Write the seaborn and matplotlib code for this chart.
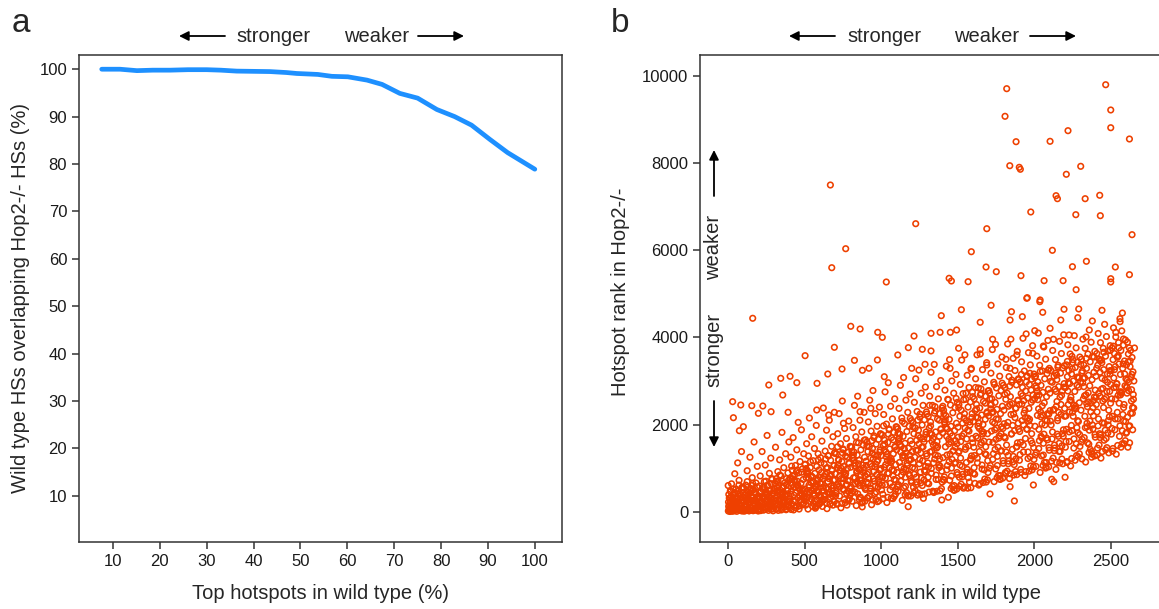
import numpy as np
import pandas as pd
import seaborn as sns
import matplotlib.pyplot as plt
from matplotlib.patches import FancyArrowPatch

# panel a: overlap of top wild type hotspots with Hop2-/- hotspots
pct_top = [7.6, 11.5, 15.1, 18.5, 22.2, 26.0, 30.0, 33.0, 36.4, 40.0, 43.5, 47.0,
           49.2, 51.5, 53.7, 56.7, 60.1, 64.2, 67.4, 71.2, 75.0, 79.1, 82.9, 86.5,
           90.4, 94.2, 100.0]
pct_overlap = [100.0, 100.0, 99.7, 99.8, 99.8, 99.9, 99.9, 99.8, 99.6, 99.55, 99.5, 99.3,
               99.1, 99.0, 98.9, 98.5, 98.4, 97.7, 96.8, 94.9, 93.9, 91.5, 90.0, 88.2,
               85.2, 82.4, 78.9]

# panel b: hotspot rank in wild type vs rank in Hop2-/-
# isolated points well above the main cloud
outliers = [
    (1819, 9709), (2465, 9800), (1808, 9075), (2498, 9220), (2498, 8813), (2219, 8745),
    (1880, 8492), (2102, 8501), (2620, 8554), (668, 7498), (1839, 7941), (1901, 7904),
    (1908, 7859), (2302, 7927), (2208, 7744), (2141, 7253), (2150, 7184), (2331, 7184),
    (2426, 7262), (1976, 6879), (2270, 6817), (2430, 6794), (1225, 6610), (1689, 6495),
    (2637, 6358), (768, 6036), (1588, 5967), (2117, 5999), (677, 5600), (1684, 5616),
    (1751, 5508), (2339, 5747), (2248, 5623), (2528, 5616), (1033, 5272), (1443, 5357),
    (1458, 5295), (1567, 5279), (1912, 5417), (2063, 5302), (2187, 5302), (2272, 5095),
    (2498, 5348), (2498, 5272), (2620, 5440), (1953, 4912), (2037, 4859),
]
# sparse points between the cloud and the outliers
upper_scatter = [
    (1950, 4898), (2035, 4820), (1717, 4737), (2054, 4576), (161, 4439), (1392, 4499),
    (1523, 4636), (1850, 4590), (1921, 4476), (2193, 4646), (2289, 4653), (2441, 4622),
    (2574, 4560), (801, 4255), (862, 4193), (977, 4117), (1007, 4002), (1214, 4032),
    (1325, 4094), (1384, 4117), (1451, 4117), (1492, 4170), (1646, 4347), (1841, 4399),
    (2002, 4154), (2102, 4209), (2172, 4399), (2283, 4453), (2378, 4377), (2559, 4361),
    (2531, 4117), (2581, 3964), (2653, 3757), (2337, 4010), (2226, 4056), (2124, 3957),
    (2058, 3803), (503, 3581), (694, 3773), (825, 3474), (975, 3482), (1108, 3597),
    (1177, 3765), (1268, 3727), (1325, 3689), (1505, 3750), (1646, 3620), (1727, 3957),
    (1814, 3498), (1885, 3597), (1989, 3635), (2245, 3566), (2428, 3466), (2543, 3551),
    (344, 3061), (405, 3108), (449, 2961), (266, 2908), (357, 2678), (581, 2946),
    (651, 3160), (744, 3275), (877, 3245), (920, 3291), (1020, 3098), (1199, 3291),
    (1286, 3383), (1449, 3291), (1586, 3268), (1689, 3367), (1841, 3291), (1971, 3176),
    (2145, 3137), (2287, 3085), (2493, 3236), (2602, 2869), (2602, 1822), (30, 2525),
    (83, 2449), (155, 2433), (227, 2426), (281, 2295), (198, 2258), (35, 2157),
    (100, 1951), (74, 1859), (392, 2281), (579, 2334), (657, 2219), (694, 2281),
    (753, 2029), (862, 2295), (932, 2373),
]
# main cloud, ranks 1-999
cloud_low = [
    (2, 15), (4, 120), (6, 40), (8, 310), (10, 75), (12, 5), (14, 210), (17, 460), (19, 30),
    (21, 150), (23, 640), (26, 90), (28, 10), (31, 280), (33, 55), (36, 390), (38, 170),
    (41, 20), (44, 870), (46, 240), (49, 60), (52, 520), (55, 130), (57, 8), (60, 330),
    (63, 1120), (66, 85), (69, 190), (72, 720), (75, 35), (78, 410), (81, 140), (84, 25),
    (88, 1380), (91, 260), (95, 70), (98, 560),
    (101, 45), (104, 230), (107, 12), (110, 380), (113, 95), (116, 610), (119, 160),
    (122, 30), (125, 940), (128, 290), (131, 70), (134, 450), (137, 18), (140, 200),
    (143, 1250), (146, 110), (149, 520), (152, 40), (155, 330), (158, 780), (161, 140),
    (164, 22), (167, 260), (170, 1600), (173, 80), (176, 420), (179, 180), (182, 660),
    (185, 55), (188, 300), (191, 1040), (194, 125), (197, 15),
    (201, 60), (204, 350), (207, 140), (210, 820), (213, 25), (216, 470), (219, 210),
    (222, 1380), (225, 95), (228, 560), (231, 300), (234, 40), (237, 690), (240, 180),
    (243, 1070), (246, 75), (249, 410), (252, 250), (255, 1750), (258, 120), (261, 590),
    (264, 30), (267, 340), (270, 880), (273, 165), (276, 480), (279, 1230), (282, 65),
    (285, 270), (288, 740), (291, 200), (294, 20), (297, 430),
    (301, 110), (304, 520), (307, 250), (310, 1480), (313, 60), (316, 700), (319, 380),
    (322, 170), (325, 920), (328, 30), (331, 610), (334, 290), (337, 1190), (340, 140),
    (343, 450), (346, 820), (349, 75), (352, 1820), (355, 340), (358, 560), (361, 210),
    (364, 1010), (367, 100), (370, 660), (373, 400), (376, 1330), (379, 45), (382, 760),
    (385, 230), (388, 490), (391, 890), (394, 150), (397, 1600),
    (401, 300), (404, 760), (407, 90), (410, 1250), (413, 470), (416, 180), (419, 950),
    (422, 620), (425, 1700), (428, 40), (431, 380), (434, 840), (437, 230), (440, 1060),
    (443, 560), (446, 130), (449, 1420), (452, 700), (455, 320), (458, 2050), (461, 890),
    (464, 60), (467, 510), (470, 1150), (473, 270), (476, 650), (479, 1880), (482, 420),
    (485, 980), (488, 160), (491, 740), (494, 1330), (497, 350),
    (501, 520), (504, 1090), (507, 150), (510, 780), (513, 1560), (516, 340), (519, 920),
    (522, 60), (525, 1280), (528, 610), (531, 2150), (534, 430), (537, 1010), (540, 230),
    (543, 820), (546, 1720), (549, 490), (552, 120), (555, 1170), (558, 690), (561, 370),
    (564, 1450), (567, 880), (570, 80), (573, 560), (576, 1980), (579, 1040), (582, 280),
    (585, 740), (588, 1330), (591, 450), (594, 960), (597, 190),
    (601, 650), (604, 1240), (607, 330), (610, 900), (613, 1620), (616, 120), (619, 760),
    (622, 2380), (625, 480), (628, 1100), (631, 280), (634, 1390), (637, 860), (640, 540),
    (643, 1870), (646, 70), (649, 1010), (652, 690), (655, 1280), (658, 400), (661, 2100),
    (664, 820), (667, 180), (670, 1180), (673, 590), (676, 1500), (679, 950), (682, 360),
    (685, 1720), (688, 720), (691, 1060), (694, 230), (697, 1360),
    (701, 870), (704, 420), (707, 1330), (710, 190), (713, 1010), (716, 1790), (719, 640),
    (722, 1200), (725, 2250), (728, 360), (731, 930), (734, 1560), (737, 90), (740, 760),
    (743, 1150), (746, 2540), (749, 520), (752, 1420), (755, 1040), (758, 280), (761, 1910),
    (764, 830), (767, 1280), (770, 610), (773, 1680), (776, 150), (779, 990), (782, 1360),
    (785, 470), (788, 2080), (791, 1110), (794, 710), (797, 1500),
    (801, 1020), (804, 560), (807, 1480), (810, 240), (813, 1240), (816, 1930), (819, 780),
    (822, 1370), (825, 2440), (828, 450), (831, 1110), (834, 1720), (837, 140), (840, 900),
    (843, 1300), (846, 2650), (849, 650), (852, 1580), (855, 1180), (858, 330), (861, 2100),
    (864, 960), (867, 1420), (870, 720), (873, 1830), (876, 110), (879, 1070), (882, 1530),
    (885, 580), (888, 2280), (891, 1250), (894, 830), (897, 1650),
    (901, 1160), (904, 680), (907, 1600), (910, 320), (913, 1380), (916, 2060), (919, 900),
    (922, 1490), (925, 2560), (928, 540), (931, 1230), (934, 1850), (937, 160), (940, 1040),
    (943, 1450), (946, 2780), (949, 760), (952, 1700), (955, 1300), (958, 420), (961, 2250),
    (964, 1090), (967, 1550), (970, 850), (973, 1960), (976, 230), (979, 1190), (982, 1660),
    (985, 640), (988, 2400), (991, 1370), (994, 960), (997, 1780),
]
# main cloud, ranks 1000-1999
cloud_mid = [
    (1001, 1290), (1004, 800), (1007, 1760), (1010, 400), (1013, 1520), (1016, 2230),
    (1019, 1020), (1022, 1640), (1025, 2750), (1028, 620), (1031, 1370), (1034, 2010),
    (1037, 210), (1040, 1170), (1043, 1590), (1046, 2960), (1049, 880), (1052, 1880),
    (1055, 1440), (1058, 500), (1061, 2420), (1064, 1220), (1067, 1700), (1070, 960),
    (1073, 2130), (1076, 300), (1079, 1330), (1082, 1820), (1085, 740), (1088, 2590),
    (1091, 1500), (1094, 1080), (1097, 1950),
    (1101, 1420), (1104, 900), (1107, 1900), (1110, 470), (1113, 1660), (1116, 2370),
    (1119, 1130), (1122, 1780), (1125, 2900), (1128, 700), (1131, 1500), (1134, 2150),
    (1137, 260), (1140, 1290), (1143, 1730), (1146, 3080), (1149, 990), (1152, 2020),
    (1155, 1570), (1158, 580), (1161, 2560), (1164, 1350), (1167, 1840), (1170, 1060),
    (1173, 2280), (1176, 115), (1179, 1460), (1182, 1960), (1185, 830), (1188, 2700),
    (1191, 1630), (1194, 1200), (1197, 2090),
    (1201, 1550), (1204, 1010), (1207, 2050), (1210, 560), (1213, 1790), (1216, 2510),
    (1219, 1250), (1222, 1920), (1225, 3050), (1228, 790), (1231, 1640), (1234, 2300),
    (1237, 380), (1240, 1410), (1243, 1870), (1246, 3250), (1249, 1100), (1252, 2170),
    (1255, 1700), (1258, 660), (1261, 2720), (1264, 1480), (1267, 1990), (1270, 1170),
    (1273, 2440), (1275, 307), (1279, 1600), (1282, 2110), (1285, 920), (1288, 2860),
    (1291, 1770), (1294, 1330), (1297, 2240),
    (1301, 1680), (1304, 1120), (1307, 2190), (1310, 640), (1313, 1920), (1316, 2650),
    (1319, 1370), (1322, 2060), (1325, 3200), (1328, 880), (1331, 1770), (1334, 2440),
    (1337, 470), (1340, 1530), (1343, 459), (1346, 3380), (1349, 1210), (1352, 2310),
    (1355, 1830), (1358, 740), (1361, 2870), (1364, 1610), (1367, 2130), (1370, 1280),
    (1373, 2590), (1376, 1010), (1379, 1730), (1382, 2250), (1385, 1040), (1388, 3010),
    (1391, 1900), (1395, 269), (1397, 2380),
    (1401, 1810), (1404, 1240), (1407, 2330), (1410, 720), (1413, 2060), (1416, 2790),
    (1419, 1490), (1422, 2200), (1425, 3340), (1428, 960), (1431, 1900), (1434, 2580),
    (1438, 330), (1440, 1660), (1443, 2120), (1446, 3490), (1449, 1320), (1452, 2450),
    (1455, 1960), (1458, 820), (1461, 3000), (1464, 1740), (1467, 2270), (1470, 1400),
    (1473, 2720), (1476, 600), (1479, 1860), (1482, 2390), (1485, 1130), (1488, 3150),
    (1491, 2030), (1494, 1560), (1497, 2510),
    (1501, 1940), (1504, 1360), (1507, 2460), (1510, 790), (1513, 2190), (1516, 2920),
    (1519, 1610), (1522, 2330), (1525, 3480), (1528, 1040), (1531, 2030), (1534, 2710),
    (1537, 540), (1540, 1790), (1543, 2250), (1546, 3600), (1549, 1430), (1552, 2580),
    (1555, 2090), (1558, 900), (1561, 3130), (1564, 1870), (1567, 2400), (1570, 1510),
    (1573, 2850), (1576, 680), (1579, 1990), (1582, 2520), (1585, 1220), (1588, 3290),
    (1591, 2160), (1594, 1680), (1597, 2640),
    (1601, 2070), (1604, 1480), (1607, 2590), (1610, 860), (1613, 2320), (1616, 3050),
    (1619, 1730), (1622, 2460), (1625, 3600), (1628, 1120), (1631, 2160), (1634, 2840),
    (1637, 610), (1640, 1910), (1643, 2380), (1646, 3720), (1649, 1540), (1652, 2710),
    (1655, 2220), (1658, 980), (1661, 3260), (1664, 2000), (1667, 2530), (1670, 1620),
    (1673, 2980), (1676, 750), (1679, 2120), (1682, 2650), (1685, 1310), (1688, 3420),
    (1691, 2290), (1694, 1790), (1697, 2770),
    (1701, 2200), (1704, 1600), (1707, 2720), (1710, 406), (1713, 2450), (1716, 3180),
    (1719, 1850), (1722, 2590), (1725, 3720), (1728, 1200), (1731, 2290), (1734, 2970),
    (1737, 690), (1740, 2030), (1743, 2510), (1746, 3840), (1749, 1660), (1752, 2840),
    (1755, 2350), (1758, 1060), (1761, 3390), (1764, 2120), (1767, 2660), (1770, 1740),
    (1773, 3110), (1776, 830), (1779, 2250), (1782, 2780), (1785, 1400), (1788, 3550),
    (1791, 2420), (1794, 1910), (1797, 2900),
    (1801, 2330), (1804, 1720), (1807, 2850), (1810, 900), (1813, 2580), (1816, 3310),
    (1819, 1970), (1822, 2720), (1825, 3850), (1828, 1290), (1831, 2420), (1834, 3100),
    (1837, 760), (1841, 574), (1843, 2640), (1846, 3960), (1849, 1780), (1852, 2970),
    (1855, 2480), (1858, 1140), (1861, 3520), (1864, 2240), (1869, 246), (1870, 1860),
    (1873, 3240), (1876, 920), (1879, 2380), (1882, 2910), (1885, 1490), (1888, 3680),
    (1891, 2550), (1894, 2030), (1897, 3030),
    (1901, 2460), (1904, 1840), (1907, 2980), (1910, 970), (1913, 2710), (1916, 3440),
    (1919, 2090), (1922, 2850), (1925, 3980), (1928, 1370), (1931, 2550), (1934, 3230),
    (1937, 830), (1940, 2160), (1943, 2770), (1946, 4080), (1949, 1900), (1952, 3100),
    (1955, 2610), (1958, 1220), (1961, 3650), (1964, 2370), (1967, 2920), (1970, 1980),
    (1973, 3370), (1976, 1050), (1979, 2510), (1982, 3040), (1985, 1570), (1988, 3810),
    (1991, 2680), (1993, 613), (1997, 3160),
]
# main cloud, ranks 2000 and up
cloud_high = [
    (2001, 2590), (2004, 1960), (2007, 3110), (2010, 1040), (2013, 2840), (2016, 3570),
    (2019, 2210), (2022, 2980), (2025, 4100), (2028, 1450), (2031, 2680), (2034, 3360),
    (2037, 900), (2040, 2290), (2043, 2900), (2046, 1700), (2049, 2020), (2052, 3230),
    (2055, 2740), (2058, 1300), (2061, 3780), (2064, 2500), (2067, 3050), (2070, 2100),
    (2073, 3500), (2076, 1130), (2079, 2640), (2082, 3170), (2085, 1650), (2088, 3930),
    (2091, 2810), (2094, 2240), (2097, 3290),
    (2101, 2720), (2104, 2080), (2107, 3240), (2113, 744), (2116, 2970), (2119, 3700),
    (2122, 2330), (2126, 689), (2128, 3110), (2131, 1530), (2134, 2810), (2137, 3490),
    (2140, 970), (2143, 2420), (2146, 3030), (2149, 1780), (2152, 2150), (2155, 3360),
    (2158, 2870), (2161, 1380), (2164, 3910), (2167, 2630), (2170, 3180), (2173, 2230),
    (2176, 3630), (2179, 1210), (2182, 2770), (2185, 3300), (2188, 1730), (2191, 4060),
    (2194, 2940), (2197, 2370),
    (2200, 790), (2203, 2850), (2206, 2200), (2209, 3370), (2212, 1130), (2215, 3100),
    (2218, 3830), (2221, 2460), (2224, 3240), (2227, 1610), (2230, 2940), (2233, 3620),
    (2236, 1050), (2239, 2550), (2242, 3160), (2245, 1860), (2248, 2280), (2251, 3490),
    (2254, 3000), (2257, 1460), (2260, 4040), (2263, 2760), (2266, 3310), (2269, 2360),
    (2272, 3760), (2275, 1290), (2278, 2900), (2281, 3430), (2284, 1810), (2287, 2070),
    (2290, 3070), (2293, 2500), (2296, 3550),
    (2301, 2980), (2304, 2330), (2307, 3500), (2310, 1210), (2313, 3230), (2316, 3960),
    (2319, 2590), (2322, 3370), (2325, 1700), (2328, 3070), (2331, 3750), (2334, 1140),
    (2337, 2680), (2340, 3290), (2343, 1950), (2346, 2410), (2349, 3620), (2352, 3130),
    (2355, 1550), (2358, 4170), (2361, 2890), (2364, 3440), (2367, 2490), (2370, 3890),
    (2373, 1380), (2376, 3030), (2379, 3560), (2382, 1900), (2385, 2200), (2388, 3200),
    (2391, 2630), (2394, 3680), (2397, 2790),
    (2401, 3110), (2404, 2460), (2407, 3630), (2410, 1300), (2413, 3360), (2416, 4090),
    (2419, 2720), (2422, 3500), (2425, 1790), (2428, 3200), (2431, 3880), (2434, 1230),
    (2437, 2810), (2440, 3420), (2443, 2040), (2446, 2540), (2449, 3750), (2452, 3260),
    (2455, 1640), (2458, 4300), (2461, 3020), (2464, 3570), (2467, 2620), (2470, 4020),
    (2473, 1470), (2476, 3160), (2479, 3690), (2482, 1990), (2485, 2330), (2488, 3330),
    (2491, 2760), (2494, 3810), (2497, 2920),
    (2501, 3240), (2504, 2590), (2507, 3760), (2510, 1390), (2513, 3490), (2516, 4220),
    (2519, 2850), (2522, 3630), (2525, 1880), (2528, 3330), (2531, 4010), (2534, 1320),
    (2537, 2940), (2540, 3550), (2543, 2130), (2546, 2670), (2549, 3880), (2552, 3390),
    (2555, 1730), (2558, 4430), (2561, 3150), (2564, 3700), (2567, 2750), (2570, 4150),
    (2573, 1560), (2576, 3290), (2579, 3820), (2582, 2080), (2585, 2460), (2588, 3460),
    (2591, 2890), (2594, 3940), (2597, 3050),
    (2601, 3370), (2604, 2720), (2607, 3890), (2610, 1480), (2613, 3620), (2616, 2980),
    (2619, 3760), (2622, 1970), (2625, 3460), (2628, 2260), (2631, 3080), (2634, 2800),
    (2637, 3540), (2640, 2390), (2643, 3210), (2646, 2580), (2649, 3000),
]
# densest part of the cloud, ranks 1-1299
core_low = [
    (3, 220), (47, 95), (15, 480), (82, 310), (29, 20), (64, 405), (9, 160), (91, 560),
    (38, 270), (73, 45), (22, 350), (56, 190), (1, 600), (87, 130), (43, 440), (68, 255),
    (11, 70), (34, 520), (79, 375), (25, 110), (58, 290), (93, 15), (5, 395), (50, 230),
    (71, 610), (16, 325), (85, 210), (40, 50), (62, 465), (97, 340),
    (148, 270), (103, 540), (186, 90), (129, 380), (161, 650), (111, 175), (195, 330),
    (138, 25), (172, 455), (120, 240), (157, 600), (106, 60), (183, 395), (133, 210),
    (166, 510), (114, 305), (199, 145), (144, 430), (177, 35), (125, 690), (151, 360),
    (109, 120), (190, 570), (136, 285), (169, 190), (118, 415), (159, 85), (181, 250),
    (127, 470), (193, 310),
    (233, 310), (276, 145), (206, 590), (259, 420), (289, 60), (218, 250), (247, 700),
    (203, 35), (268, 360), (229, 505), (294, 215), (241, 110), (212, 440), (282, 640),
    (254, 280), (224, 170), (298, 480), (263, 75), (237, 555), (208, 330), (273, 230),
    (250, 380), (286, 760), (215, 125), (244, 460), (279, 300), (221, 200), (257, 610),
    (292, 410), (231, 40),
    (342, 380), (306, 650), (377, 150), (319, 470), (361, 260), (395, 720), (330, 90),
    (353, 560), (312, 310), (386, 410), (338, 840), (369, 195), (303, 520), (348, 40),
    (381, 620), (324, 270), (358, 440), (392, 120), (316, 760), (373, 350), (335, 230),
    (365, 590), (309, 170), (389, 480), (344, 300), (327, 690), (379, 65), (351, 400),
    (398, 250), (321, 540),
    (456, 605), (402, 230), (479, 905), (441, 440), (465, 130), (418, 760), (495, 350),
    (429, 560), (451, 955), (473, 270), (412, 50), (438, 690), (482, 480), (458, 320),
    (422, 815), (493, 190), (462, 540), (409, 400), (447, 920), (485, 160), (432, 730),
    (453, 600), (497, 290), (415, 1045), (477, 420), (443, 90), (489, 500), (406, 660),
    (468, 370), (427, 250),
    (585, 720), (547, 280), (509, 990), (562, 510), (593, 160), (522, 860), (558, 420),
    (582, 640), (538, 1150), (512, 330), (573, 110), (551, 800), (529, 560), (595, 380),
    (518, 940), (565, 240), (541, 670), (579, 470), (502, 1080), (556, 190), (527, 760),
    (568, 590), (506, 300), (589, 1190), (543, 480), (577, 140), (515, 880), (597, 350),
    (553, 700), (532, 450),
    (627, 820), (668, 330), (606, 1120), (689, 590), (643, 190), (677, 960), (615, 480),
    (697, 730), (653, 1290), (632, 380), (685, 150), (647, 900), (609, 640), (662, 440),
    (693, 1060), (622, 270), (658, 760), (682, 540), (638, 1210), (612, 220), (673, 850),
    (651, 680), (629, 350), (695, 1340), (618, 560), (665, 170), (641, 1000), (679, 410),
    (602, 790), (656, 520),
    (756, 910), (702, 370), (779, 1250), (741, 660), (765, 210), (718, 1070), (795, 540),
    (729, 820), (751, 1440), (773, 420), (712, 170), (738, 1000), (782, 710), (758, 490),
    (722, 1180), (793, 300), (762, 850), (709, 600), (747, 1350), (785, 250), (732, 950),
    (753, 760), (797, 390), (715, 1490), (777, 620), (743, 190), (789, 1110), (706, 460),
    (768, 880), (727, 580),
    (885, 1000), (847, 410), (809, 1380), (862, 730), (893, 240), (822, 1180), (858, 600),
    (882, 900), (838, 1590), (812, 470), (873, 200), (851, 1100), (829, 780), (895, 540),
    (818, 1300), (865, 330), (841, 940), (879, 660), (802, 1490), (856, 280), (827, 1050),
    (868, 840), (806, 430), (889, 1640), (843, 690), (877, 220), (815, 1230), (897, 510),
    (853, 970), (832, 640),
    (927, 1090), (968, 450), (906, 1510), (989, 800), (943, 270), (977, 1290), (915, 660),
    (997, 990), (953, 1740), (932, 520), (985, 250), (947, 1210), (909, 860), (962, 590),
    (993, 1420), (922, 360), (958, 1030), (982, 720), (938, 1630), (912, 310), (973, 1150),
    (951, 920), (929, 470), (995, 1790), (918, 760), (965, 280), (941, 1350), (979, 560),
    (902, 1060), (956, 700),
    (1056, 1190), (1002, 500), (1079, 1650), (1041, 880), (1065, 310), (1018, 1410),
    (1095, 720), (1029, 1080), (1051, 1900), (1073, 570), (1012, 300), (1038, 1320),
    (1082, 940), (1058, 650), (1022, 1550), (1093, 400), (1062, 1130), (1009, 790),
    (1047, 1780), (1085, 350), (1032, 1260), (1053, 1010), (1097, 520), (1015, 1970),
    (1077, 830), (1043, 330), (1089, 1480), (1006, 610), (1068, 1160), (1027, 770),
    (1185, 1300), (1147, 550), (1109, 1800), (1162, 960), (1193, 360), (1122, 1540),
    (1158, 790), (1182, 1180), (1138, 2070), (1112, 620), (1173, 370), (1151, 1440),
    (1129, 1030), (1195, 710), (1118, 1690), (1165, 440), (1141, 1240), (1179, 870),
    (1102, 1940), (1156, 390), (1127, 1370), (1168, 1110), (1106, 570), (1189, 2140),
    (1143, 910), (1177, 360), (1115, 1610), (1197, 670), (1153, 1270), (1132, 840),
    (1227, 1410), (1268, 600), (1206, 1950), (1289, 1040), (1243, 420), (1277, 1670),
    (1215, 860), (1297, 1280), (1253, 2240), (1232, 680), (1285, 410), (1247, 1560),
    (1209, 1120), (1262, 770), (1293, 1830), (1222, 480), (1258, 1350), (1282, 950),
    (1238, 2100), (1212, 430), (1273, 1490), (1251, 1200), (1229, 620), (1295, 2290),
    (1218, 990), (1265, 400), (1241, 1750), (1279, 730), (1202, 1380), (1256, 910),
]
# densest part of the cloud, ranks 1300 and up
core_high = [
    (1356, 1520), (1302, 660), (1379, 2100), (1341, 1120), (1365, 470), (1318, 1800),
    (1395, 930), (1329, 1380), (1351, 2410), (1373, 740), (1312, 450), (1338, 1680),
    (1382, 1210), (1358, 840), (1322, 1970), (1393, 530), (1362, 1460), (1309, 1030),
    (1347, 2260), (1385, 480), (1332, 1610), (1353, 1300), (1397, 680), (1315, 2440),
    (1377, 1070), (1343, 440), (1389, 1890), (1306, 790), (1368, 1490), (1327, 990),
    (1485, 1630), (1447, 720), (1409, 2250), (1462, 1200), (1493, 520), (1422, 1930),
    (1458, 1000), (1482, 1480), (1438, 2570), (1412, 800), (1473, 500), (1451, 1800),
    (1429, 1300), (1495, 900), (1418, 2110), (1465, 580), (1441, 1560), (1479, 1110),
    (1402, 2420), (1456, 530), (1427, 1730), (1468, 1390), (1406, 740), (1489, 2600),
    (1443, 1150), (1477, 490), (1415, 2020), (1497, 850), (1453, 1600), (1432, 1060),
    (1527, 1740), (1568, 780), (1506, 2390), (1589, 1280), (1543, 570), (1577, 2060),
    (1515, 1070), (1597, 1580), (1553, 2720), (1532, 860), (1585, 550), (1547, 1920),
    (1509, 1390), (1562, 970), (1593, 2250), (1522, 630), (1558, 1670), (1582, 1190),
    (1538, 2570), (1512, 580), (1573, 1850), (1551, 1480), (1529, 800), (1595, 2740),
    (1518, 1230), (1565, 540), (1541, 2150), (1579, 910), (1502, 1710), (1556, 1130),
    (1656, 1850), (1602, 880), (1679, 2490), (1641, 1380), (1665, 670), (1618, 2170),
    (1695, 1170), (1629, 1690), (1651, 2820), (1673, 960), (1612, 650), (1638, 2030),
    (1682, 1490), (1658, 1070), (1622, 2360), (1693, 730), (1662, 1780), (1609, 1290),
    (1647, 2680), (1685, 680), (1632, 1960), (1653, 1590), (1697, 900), (1615, 2850),
    (1677, 1330), (1643, 640), (1689, 2260), (1606, 1010), (1668, 1820), (1627, 1230),
    (1785, 1950), (1747, 980), (1709, 2590), (1762, 1480), (1793, 770), (1722, 2270),
    (1758, 1270), (1782, 1790), (1738, 2920), (1712, 1060), (1773, 750), (1751, 2130),
    (1729, 1590), (1795, 1170), (1718, 2460), (1765, 830), (1741, 1880), (1779, 1390),
    (1702, 2780), (1756, 780), (1727, 2060), (1768, 1690), (1706, 1000), (1789, 2950),
    (1743, 1430), (1777, 740), (1715, 2360), (1797, 1110), (1753, 1920), (1732, 1330),
    (1827, 2050), (1868, 1080), (1806, 2690), (1889, 1580), (1843, 870), (1877, 2370),
    (1815, 1370), (1897, 1890), (1853, 3020), (1832, 1160), (1885, 850), (1847, 2230),
    (1809, 1690), (1862, 1270), (1893, 2560), (1822, 930), (1858, 1980), (1882, 1490),
    (1838, 2880), (1812, 880), (1873, 2160), (1851, 1790), (1829, 1100), (1895, 3050),
    (1818, 1530), (1865, 840), (1841, 2460), (1879, 1210), (1802, 2020), (1856, 1430),
    (1956, 2150), (1902, 1180), (1979, 2790), (1941, 1680), (1965, 930), (1918, 2470),
    (1995, 1470), (1929, 1990), (1951, 3120), (1973, 1260), (1912, 900), (1938, 2330),
    (1982, 1790), (1958, 1370), (1922, 2660), (1993, 1030), (1962, 2080), (1909, 1590),
    (1947, 2980), (1985, 960), (1932, 2260), (1953, 1890), (1997, 1200), (1915, 3150),
    (1977, 1630), (1943, 920), (1989, 2560), (1906, 1310), (1968, 2120), (1927, 1530),
    (2085, 2250), (2047, 1280), (2009, 2890), (2062, 1780), (2093, 1030), (2022, 2570),
    (2058, 1570), (2082, 2090), (2038, 3220), (2012, 1360), (2073, 1000), (2051, 2430),
    (2029, 1890), (2095, 1470), (2018, 2760), (2065, 1130), (2041, 2180), (2079, 1690),
    (2002, 3080), (2056, 1060), (2027, 2360), (2068, 1990), (2006, 1300), (2089, 3250),
    (2043, 1730), (2077, 1020), (2015, 2660), (2097, 1410), (2053, 2220), (2032, 1630),
    (2127, 2350), (2168, 1380), (2106, 2990), (2189, 1880), (2143, 1130), (2177, 2670),
    (2115, 1670), (2197, 2190), (2153, 3320), (2132, 1460), (2185, 1100), (2147, 2530),
    (2109, 1990), (2162, 1570), (2193, 2860), (2122, 1230), (2158, 2280), (2182, 1790),
    (2138, 3180), (2112, 1160), (2173, 2460), (2151, 2090), (2129, 1400), (2195, 3350),
    (2118, 1830), (2165, 1120), (2141, 2760), (2179, 1510), (2102, 2320), (2156, 1730),
    (2256, 2450), (2202, 1480), (2279, 3090), (2241, 1980), (2265, 1180), (2218, 2770),
    (2295, 1770), (2229, 2290), (2251, 3420), (2273, 1560), (2212, 1150), (2238, 2630),
    (2282, 2090), (2258, 1670), (2222, 2960), (2293, 1330), (2262, 2380), (2209, 1890),
    (2247, 3280), (2285, 1260), (2232, 2560), (2253, 2190), (2297, 1500), (2215, 3450),
    (2277, 1930), (2243, 1220), (2289, 2860), (2206, 1610), (2268, 2420), (2227, 1830),
    (2385, 2550), (2347, 1580), (2309, 3190), (2362, 2080), (2393, 1280), (2322, 2870),
    (2358, 1870), (2382, 2390), (2338, 3520), (2312, 1660), (2373, 1250), (2351, 2730),
    (2329, 2190), (2395, 1770), (2318, 3060), (2365, 1430), (2341, 2480), (2379, 1990),
    (2302, 3380), (2356, 1360), (2327, 2660), (2368, 2290), (2306, 1600), (2389, 3550),
    (2343, 2030), (2377, 1320), (2315, 2960), (2397, 1710), (2353, 2520), (2332, 1930),
    (2427, 2650), (2468, 1680), (2406, 3290), (2489, 2180), (2443, 1380), (2477, 2970),
    (2415, 1970), (2497, 2490), (2453, 3660), (2432, 1760), (2485, 1350), (2447, 2830),
    (2409, 2290), (2462, 1870), (2493, 3160), (2422, 1530), (2458, 2580), (2482, 2090),
    (2438, 3480), (2412, 1460), (2473, 2760), (2451, 2390), (2429, 1700), (2495, 3700),
    (2418, 2130), (2465, 1420), (2441, 3060), (2479, 1810), (2402, 2620), (2456, 2030),
    (2556, 2750), (2502, 1780), (2579, 3390), (2541, 2280), (2565, 1480), (2518, 3070),
    (2595, 2070), (2529, 2590), (2551, 3760), (2573, 1860), (2512, 1450), (2538, 2930),
    (2582, 2390), (2558, 1970), (2522, 3260), (2593, 1630), (2562, 2680), (2509, 2190),
    (2547, 3580), (2585, 1560), (2532, 2860), (2553, 2490), (2597, 1800), (2515, 3800),
    (2577, 2230), (2543, 1520), (2589, 3160), (2506, 1910), (2568, 2720), (2527, 2130),
    (2603, 2850), (2641, 1880), (2612, 3440), (2648, 2380), (2621, 1580), (2636, 3150),
    (2608, 2170), (2645, 2690), (2627, 3700), (2617, 1960), (2633, 2540), (2606, 3020),
    (2639, 2260), (2624, 3330), (2614, 2780),
]

line_df = pd.DataFrame({"top": pct_top, "overlap": pct_overlap})
rank_df = pd.DataFrame(outliers + upper_scatter + cloud_low + cloud_mid + cloud_high
                       + core_low + core_high, columns=["wt", "hop2"])

sns.set_style("ticks")
plt.rcParams["font.family"] = ["Liberation Sans", "DejaVu Sans"]
plt.rcParams["axes.edgecolor"] = "#333333"
plt.rcParams["xtick.color"] = "#333333"
plt.rcParams["ytick.color"] = "#333333"
plt.rcParams["xtick.labelcolor"] = "#1a1a1a"
plt.rcParams["ytick.labelcolor"] = "#1a1a1a"

W, H = 1159, 609
fig = plt.figure(figsize=(W / 100, H / 100), dpi=100)


def fx(px):
    return px / W


def fy(py):
    return 1 - py / H


ax_a = fig.add_axes([fx(79), fy(541.7), fx(562) - fx(79), fy(55) - fy(541.7)])
ax_b = fig.add_axes([fx(700), fy(541.7), fx(1159) - fx(700), fy(55) - fy(541.7)])

# panel a
sns.lineplot(data=line_df, x="top", y="overlap", ax=ax_a, color="#1E90FF", linewidth=3.4)
ax_a.set_xlim(2.75, 105.8)
ax_a.set_ylim(0.3, 103.0)
ax_a.set_xticks(range(10, 101, 10))
ax_a.set_yticks(range(10, 101, 10))
ax_a.set_xlabel("Top hotspots in wild type (%)", fontsize=14.5)
ax_a.set_ylabel("Wild type HSs overlapping Hop2-/- HSs (%)", fontsize=14.5, va="center")
ax_a.xaxis.set_label_coords(0.501, -0.087)
ax_a.yaxis.set_label_coords((21 - 79) / 483, (541.7 - 298) / 486.7)

# panel b
sns.scatterplot(data=rank_df, x="wt", y="hop2", ax=ax_b, marker="o", s=16,
                color="#EE4000", facecolor="none", edgecolor="#EE4000", linewidth=1.15)
ax_b.set_xlim(-183, 2813)
ax_b.set_ylim(-689, 10482)
ax_b.set_xticks(range(0, 2501, 500))
ax_b.set_yticks(range(0, 10001, 2000))
ax_b.set_xlabel("Hotspot rank in wild type", fontsize=14.5)
ax_b.set_ylabel("Hotspot rank in Hop2-/-", fontsize=14.5, va="center")
ax_b.xaxis.set_label_coords((931 - 700) / 459, -0.087)
ax_b.yaxis.set_label_coords((621 - 700) / 459, (541.7 - 292) / 486.7)
ax_b.spines["right"].set_visible(False)

for ax in (ax_a, ax_b):
    for sp in ax.spines.values():
        sp.set_linewidth(1.1)
    ax.tick_params(length=5, width=1.1, pad=3.5, labelsize=12)
    ax.grid(False)

# panel letters
fig.text(fx(12), fy(32), "a", fontsize=24, ha="left", va="baseline")
fig.text(fx(611), fy(32), "b", fontsize=24, ha="left", va="baseline")


def arrow(p0, p1):
    fig.add_artist(FancyArrowPatch((fx(p0[0]), fy(p0[1])), (fx(p1[0]), fy(p1[1])),
                                   transform=fig.transFigure, arrowstyle="-|>",
                                   mutation_scale=14, lw=1.3, color="black",
                                   shrinkA=0, shrinkB=0))


# strength hints above the panels
for left, s_x, w_x, right in [((225, 36), 273, 377, (418, 36)),
                              ((835, 36), 884, 987, (1030, 36))]:
    arrow(left, (left[0] - 46, 36))
    fig.text(fx(s_x), fy(36), "stronger", fontsize=14.5, ha="center", va="center")
    fig.text(fx(w_x), fy(36), "weaker", fontsize=14.5, ha="center", va="center")
    arrow(right, (right[0] + 46, 36))

# vertical hints inside panel b
arrow((714, 196), (714, 150))
fig.text(fx(714), fy(247), "weaker", fontsize=14.5, rotation=90, ha="center", va="center")
fig.text(fx(714), fy(350), "stronger", fontsize=14.5, rotation=90, ha="center", va="center")
arrow((714, 401), (714, 447))

fig.savefig("out.png", dpi=100)
